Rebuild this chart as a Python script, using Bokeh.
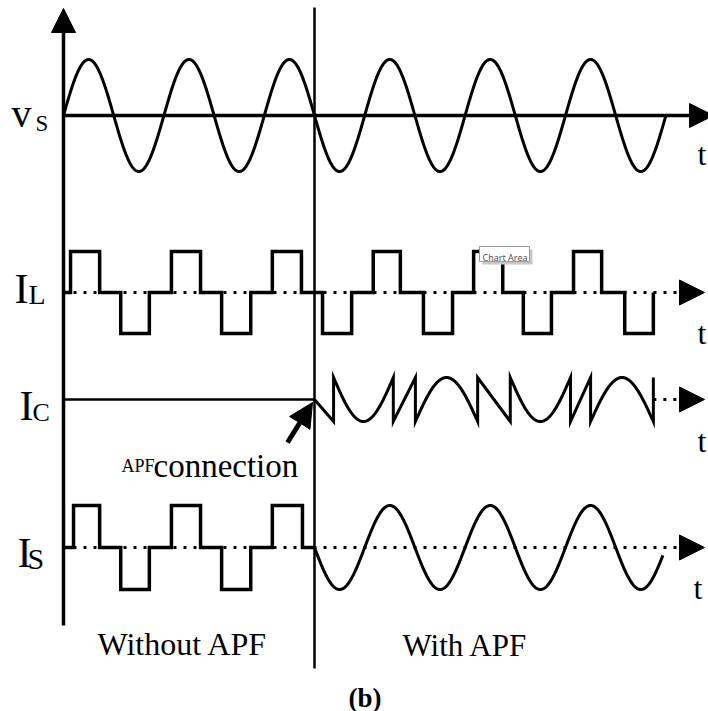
import numpy as np
from bokeh.plotting import figure
from bokeh.models import Range1d, Arrow, NormalHead, Label
from bokeh.embed import file_html
from bokeh.resources import INLINE

# ---------------- waveform data (time in ms, 50 Hz supply, per-unit levels) ----------------
period_ms = 20.0
vs_end_ms = 120.0
apf_on_ms = 50.0          # instant the active power filter is connected
is_end_ms = 119.4

# load current I_L: quasi-square pulses (+1 / -1), start and end of each pulse
il_pos_on = [1.4, 21.5, 41.6, 61.7, 81.7, 101.6]
il_pos_off = [7.2, 27.3, 47.4, 67.1, 87.5, 107.2]
il_neg_on = [11.4, 31.5, 51.6, 71.7, 91.6, 111.8]
il_neg_off = [17.1, 37.3, 57.4, 77.5, 97.2, 117.5]

# source current I_S before compensation (follows the load current)
is_pos_on = [2.0, 21.5, 41.6]
is_pos_off = [7.2, 27.3, 47.6]
is_neg_on = [11.4, 31.5]
is_neg_off = [17.1, 37.3]

# compensating current I_C after connection: ramps and half-sine arches
ic_t0 = [50.0, 53.8, 65.7, 70.1, 82.5, 89.0, 101.0, 105.0]
ic_t1 = [53.8, 65.7, 70.1, 82.5, 89.0, 101.0, 105.0, 117.5]
ic_kind = ["ramp", "dip", "ramp", "hump", "ramp", "dip", "ramp", "hump"]
ic_from = [0, 1, -1, -1, 1, 1, -1, -1]
ic_to = [-1, 1, 1, -1, -1, 1, 1, -1]
ic_last = 1

row_labels = ["v", "I", "I", "I"]
row_subs = ["S", "L", "C", "S"]

# ---------------- layout (screen pixels) ----------------
W, H = 708, 711
X0_PX = 63.0
PX_PER_MS = 5.02


def xd(px):
    """screen x (px) -> time axis (ms)"""
    return (px - X0_PX) / PX_PER_MS


ROW_Y = {"vs": 115, "il": 292, "ic": 399, "is": 547}
ROW_SCALE = {"vs": 56, "il": 41, "ic": 22, "is": 42}
ARROW_BASE_MS = xd(680)
INK = "black"
SERIF = "Liberation Serif"

p = figure(width=W, height=H, output_backend="svg", toolbar_location=None,
           x_range=Range1d(xd(0), xd(W)), y_range=Range1d(H, 0),
           min_border=0, background_fill_color="white", border_fill_color="white")
p.xaxis.visible = False
p.yaxis.visible = False
p.grid.visible = False
p.outline_line_color = None


def row(key, vals):
    return [ROW_Y[key] - ROW_SCALE[key] * v for v in vals]


def staircase(pos_on, pos_off, neg_on, neg_off, t_start, t_stop):
    pulses = sorted([(a, b, 1) for a, b in zip(pos_on, pos_off)] +
                    [(a, b, -1) for a, b in zip(neg_on, neg_off)])
    ts, vs = [t_start], [0]
    for a, b, lvl in pulses:
        ts += [a, a, b, b]
        vs += [0, lvl, lvl, 0]
    if ts[-1] < t_stop:
        ts.append(t_stop)
        vs.append(0)
    return ts, vs


# dotted zero references
for key, t_from in (("il", 0.0), ("is", 0.0), ("ic", ic_t1[-1])):
    p.line([t_from, ARROW_BASE_MS], [ROW_Y[key]] * 2, line_color=INK,
           line_width=3, line_dash="3 7")

# time axes with arrow heads
p.add_layout(Arrow(end=NormalHead(size=24, fill_color=INK, line_color=INK),
                   x_start=0, y_start=ROW_Y["vs"], x_end=xd(713), y_end=ROW_Y["vs"],
                   line_width=3.5, line_color=INK))
for key in ("il", "ic", "is"):
    p.add_layout(Arrow(end=NormalHead(size=25, fill_color=INK, line_color=INK),
                       x_start=ARROW_BASE_MS - 0.5, y_start=ROW_Y[key],
                       x_end=xd(704), y_end=ROW_Y[key], line_width=0.1, line_color=INK))

# vertical amplitude axis
p.add_layout(Arrow(end=NormalHead(size=24, fill_color=INK, line_color=INK),
                   x_start=0, y_start=625, x_end=0, y_end=8,
                   line_width=3.5, line_color=INK))

# APF connection instant
p.line([apf_on_ms, apf_on_ms], [7, 668], line_color=INK, line_width=2.5)

# supply voltage
t_vs = np.linspace(0.0, vs_end_ms, 1500)
p.line(t_vs, row("vs", np.sin(2 * np.pi * t_vs / period_ms)), line_color=INK,
       line_width=3, line_join="round")

# load current
ts, vals = staircase(il_pos_on, il_pos_off, il_neg_on, il_neg_off, 0.0, il_neg_off[-1])
p.line(ts, row("il", vals), line_color=INK, line_width=3.5, line_join="miter")

# compensating current
ic_ts, ic_vals = [0.0, apf_on_ms], [0, 0]
for t0, t1, kind, a, b in zip(ic_t0, ic_t1, ic_kind, ic_from, ic_to):
    if kind == "ramp":
        ic_ts += [t0, t1]
        ic_vals += [a, b]
    else:
        s = np.linspace(0.0, 1.0, 80)
        depth = -2.0 if kind == "dip" else 2.0
        ic_ts += list(t0 + (t1 - t0) * s)
        ic_vals += list(a + depth * np.sin(np.pi * s))
ic_ts.append(ic_t1[-1])
ic_vals.append(ic_last)
p.line(ic_ts[:2], row("ic", ic_vals[:2]), line_color=INK, line_width=2.5)
p.line(ic_ts[1:], row("ic", ic_vals[1:]), line_color=INK, line_width=3,
       line_join="miter")

# source current: square before, sinusoidal after the filter is connected
ts, vals = staircase(is_pos_on, is_pos_off, is_neg_on, is_neg_off, 0.0, apf_on_ms)
t_sin = np.linspace(apf_on_ms, is_end_ms, 800)
p.line(ts, row("is", vals), line_color=INK, line_width=3.5, line_join="miter")
p.line(t_sin, row("is", np.sin(2 * np.pi * t_sin / period_ms)), line_color=INK,
       line_width=3, line_join="round")

# arrow pointing at the connection instant
p.add_layout(Arrow(end=NormalHead(size=24, fill_color=INK, line_color=INK),
                   x_start=xd(287), y_start=442, x_end=xd(312), y_end=402,
                   line_width=5, line_color=INK))


def label(text, x_px, y_px, size, bold=False, font=SERIF, color=INK):
    p.add_layout(Label(x=xd(x_px), y=y_px, text=text, text_font=font,
                       text_font_size=f"{size}px", text_color=color,
                       text_font_style="bold" if bold else "normal",
                       text_baseline="alphabetic", text_align="left"))


# row names with subscripts
label(row_labels[0], 11, 113, 40)
label(row_subs[0], 35, 123, 23)
label(row_labels[1], 14, 288, 42)
label(row_subs[1], 28, 294, 28)
label(row_labels[2], 19, 405, 42)
label(row_subs[2], 32, 412, 26)
label(row_labels[3], 17, 552, 42)
label(row_subs[3], 27, 558, 30)

# time-axis names
for y_px, x_px in ((153, 697), (332, 697), (440, 697), (587, 693)):
    label("t", x_px, y_px, 32)

label("APF", 121, 465, 18)
label("connection", 153, 465, 33)
label("Without APF", 97, 643, 32)
label("With APF", 402, 645, 31)
label("(b)", 348, 697, 27, bold=True)

# hover tip left on the chart
p.quad(left=xd(482), right=xd(532), top=249, bottom=264, fill_color="#c8c8c8",
       line_color=None)
p.quad(left=xd(479), right=xd(529), top=246, bottom=261, fill_color="white",
       line_color="#9a9a9a", line_width=1)
label("Chart Area", 482, 257, 9, font="Noto Sans", color="#555555")

open("out.html", "w").write(file_html(p, INLINE))
